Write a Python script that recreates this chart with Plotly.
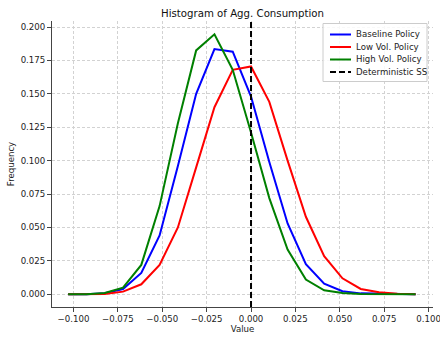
import plotly.graph_objects as go

# Bin centres of the aggregate-consumption histogram (log deviation from SS)
bin_width = 0.0103
bin_index = list(range(-10, 10))
bin_centers = [k * bin_width for k in bin_index]

baseline_freq = [0.0000, 0.0001, 0.0008, 0.0040, 0.0160, 0.0440, 0.0960, 0.1500,
                 0.1835, 0.1815, 0.1480, 0.0990, 0.0530, 0.0225, 0.0080, 0.0023,
                 0.0007, 0.0003, 0.0001, 0.0000]
low_vol_freq = [0.0000, 0.0000, 0.0003, 0.0020, 0.0075, 0.0220, 0.0500, 0.0950,
                0.1400, 0.1680, 0.1705, 0.1440, 0.1000, 0.0580, 0.0285, 0.0120,
                0.0040, 0.0015, 0.0005, 0.0001]
high_vol_freq = [0.0000, 0.0001, 0.0010, 0.0050, 0.0220, 0.0660, 0.1280, 0.1825,
                 0.1945, 0.1680, 0.1210, 0.0720, 0.0335, 0.0110, 0.0030, 0.0010,
                 0.0003, 0.0001, 0.0000, 0.0000]

series_names = ["Baseline Policy", "Low Vol. Policy", "High Vol. Policy"]
series_colors = ["#0000ff", "#ff0000", "#008000"]
ss_name = "Deterministic SS"
deterministic_ss = 0.0

x_ticks = [-0.100, -0.075, -0.050, -0.025, 0.000, 0.025, 0.050, 0.075, 0.100]
y_ticks = [0.000, 0.025, 0.050, 0.075, 0.100, 0.125, 0.150, 0.175, 0.200]
x_range = [-0.1121, 0.1025]
y_range = [-0.0095, 0.2045]

FONT = "DejaVu Sans, Liberation Sans, sans-serif"
TEXT = "#222222"
SMALL = 8.6
TITLE = 10.2

# Figure and plot-area geometry (pixels)
W, H = 440, 337
M_L, M_R, M_T, M_B = 52, 7, 21, 30
PW, PH = W - M_L - M_R, H - M_T - M_B


def px_x(p):
    """Pixel column -> paper x fraction."""
    return (p - M_L) / PW


def px_y(p):
    """Pixel row (from top) -> paper y fraction."""
    return (H - M_B - p) / PH


fig = go.Figure()
for name, color, freq in zip(series_names, series_colors,
                             [baseline_freq, low_vol_freq, high_vol_freq]):
    fig.add_trace(go.Scatter(
        x=bin_centers, y=freq, mode="lines", name=name,
        line=dict(color=color, width=2),
    ))

# Deterministic steady state marker spanning the full plot height
ss_dash = "6px,3px"
fig.add_trace(go.Scatter(
    x=[deterministic_ss, deterministic_ss], y=y_range, mode="lines",
    name=ss_name, line=dict(color="black", width=2, dash=ss_dash),
))

# Compact legend box in the upper-right corner
box_l, box_r, box_t, box_b = 323, 427, 23.5, 81.5
fig.add_shape(type="rect", xref="paper", yref="paper",
              x0=px_x(box_l), x1=px_x(box_r), y0=px_y(box_b), y1=px_y(box_t),
              line=dict(color="#cccccc", width=1),
              fillcolor="rgba(255,255,255,0.85)", layer="above")
legend_entries = list(zip(series_names, series_colors, ["solid"] * 3))
legend_entries.append((ss_name, "black", ss_dash))
row0, row_step = 34.5, 12.5
for i, (name, color, dash) in enumerate(legend_entries):
    yy = px_y(row0 + i * row_step)
    fig.add_shape(type="line", xref="paper", yref="paper",
                  x0=px_x(330), x1=px_x(351), y0=yy, y1=yy,
                  line=dict(color=color, width=2, dash=dash), layer="above")
    fig.add_annotation(text=name, xref="paper", yref="paper",
                       x=px_x(354), y=yy, xanchor="left", yanchor="middle",
                       showarrow=False,
                       font=dict(family=FONT, size=SMALL, color=TEXT))

axis_common = dict(
    showgrid=True, gridcolor="#d2d2d2", griddash="3px,2px", gridwidth=0.8,
    showline=True, linecolor="#444444", linewidth=1,
    ticks="outside", ticklen=4, tickcolor="#444444", tickwidth=1,
    tickformat=".3f", zeroline=False, automargin=False,
    ticklabeloverflow="allow",
    tickfont=dict(family=FONT, size=SMALL, color=TEXT),
)

fig.update_layout(
    width=W, height=H,
    margin=dict(l=M_L, r=M_R, t=M_T, b=M_B),
    paper_bgcolor="white", plot_bgcolor="white",
    title=dict(text="Histogram of Agg. Consumption", x=242.5 / W,
               xanchor="center", y=1 - 13 / H, yanchor="middle",
               font=dict(family=FONT, size=TITLE, color="#111111")),
    xaxis=dict(range=x_range, tickvals=x_ticks,
               title=dict(text="Value", standoff=2,
                          font=dict(family=FONT, size=SMALL, color=TEXT)),
               **axis_common),
    yaxis=dict(range=y_range, tickvals=y_ticks,
               title=dict(text="Frequency", standoff=4,
                          font=dict(family=FONT, size=SMALL, color=TEXT)),
               **axis_common),
    showlegend=False,
)

fig.write_html("out.html")
